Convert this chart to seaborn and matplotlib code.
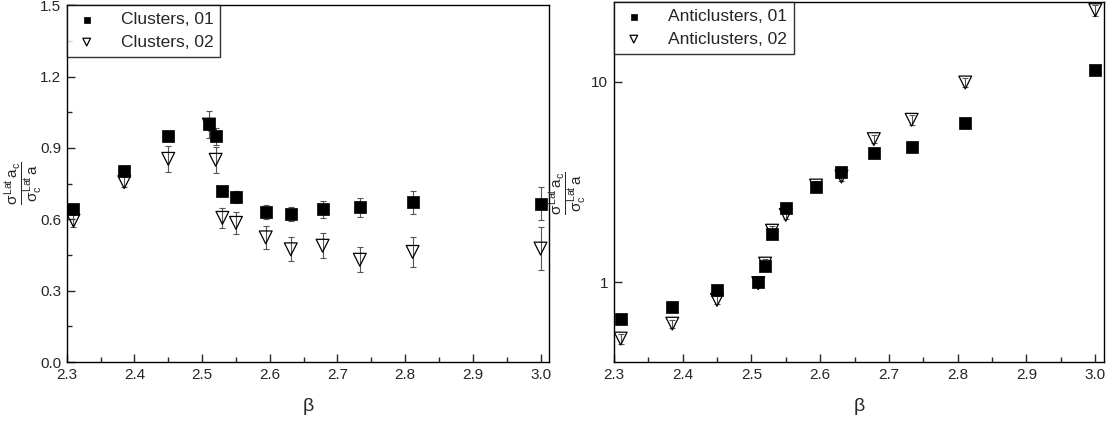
import numpy as np
import pandas as pd
import matplotlib
matplotlib.use('Agg')
import matplotlib.pyplot as plt
import matplotlib.ticker as mticker
import seaborn as sns

beta = [2.31, 2.385, 2.45, 2.51, 2.52, 2.53, 2.55, 2.594, 2.631, 2.678, 2.733, 2.811, 3.0]

clusters_01 = [0.645, 0.802, 0.952, 1.0, 0.949, 0.718, 0.694, 0.631, 0.621, 0.642, 0.650, 0.671, 0.665]
clusters_01_err = [0.02, 0.02, 0.02, 0.02, 0.035, 0.02, 0.025, 0.028, 0.03, 0.035, 0.04, 0.05, 0.07]
clusters_02 = [0.594, 0.756, 0.854, 0.998, 0.850, 0.606, 0.585, 0.524, 0.474, 0.489, 0.430, 0.463, 0.477]
clusters_02_err = [0.025, 0.02, 0.054, 0.057, 0.054, 0.043, 0.045, 0.048, 0.05, 0.053, 0.053, 0.062, 0.09]

anti_01 = [0.659, 0.756, 0.919, 1.0, 1.20, 1.74, 2.35, 2.98, 3.54, 4.41, 4.74, 6.27, 11.5]
anti_01_err = [0.02, 0.02, 0.03, 0.03, 0.04, 0.05, 0.06, 0.08, 0.1, 0.12, 0.13, 0.18, 0.35]
anti_02 = [0.524, 0.622, 0.817, 0.99, 1.24, 1.81, 2.17, 3.04, 3.37, 5.18, 6.47, 9.93, 22.8]
anti_02_err = [0.03, 0.03, 0.04, 0.04, 0.06, 0.09, 0.1, 0.15, 0.15, 0.25, 0.35, 0.55, 1.4]

sns.set_style('ticks')
plt.rcParams['font.family'] = ['Liberation Sans', 'DejaVu Sans']
plt.rcParams['mathtext.fontset'] = 'custom'
plt.rcParams['mathtext.rm'] = 'Liberation Sans'
plt.rcParams['mathtext.it'] = 'Liberation Sans'

ylab = r'$\dfrac{\sigma^{\mathrm{Lat}}\,\mathrm{a_c}}{\sigma_{\mathrm{c}}^{\mathrm{Lat}}\,\mathrm{a}}$'

fig = plt.figure(figsize=(11.12, 4.25), dpi=100)
ax1 = fig.add_axes([0.060, 0.148, 0.434, 0.840])
ax2 = fig.add_axes([0.552, 0.148, 0.441, 0.847])


def panel(ax, y1, e1, y2, e2, names):
    df = pd.DataFrame({'beta': beta, 'y1': y1, 'y2': y2})
    ax.errorbar(beta, y2, yerr=e2, fmt='none', ecolor='#555555', elinewidth=0.8, capsize=2.5, capthick=0.8, zorder=1)
    ax.errorbar(beta, y1, yerr=e1, fmt='none', ecolor='#555555', elinewidth=0.8, capsize=2.5, capthick=0.8, zorder=1)
    sns.scatterplot(data=df, x='beta', y='y1', ax=ax, marker='s', s=70, color='black', edgecolor='black',
                    linewidth=0.5, label=names[0], zorder=3)
    sns.scatterplot(data=df, x='beta', y='y2', ax=ax, marker='v', s=85, facecolor='none', edgecolor='black',
                    linewidth=0.9, label=names[1], zorder=4)
    ax.set_xlim(2.3, 3.013)
    ax.xaxis.set_major_locator(mticker.MultipleLocator(0.1))
    ax.xaxis.set_minor_locator(mticker.MultipleLocator(0.05))
    ax.xaxis.set_major_formatter(mticker.FormatStrFormatter('%.1f'))
    ax.tick_params(which='both', direction='in', top=False, right=False, labelsize=11, pad=4)
    ax.tick_params(which='major', length=6, width=1)
    ax.tick_params(which='minor', length=3.5, width=1)
    for sp in ax.spines.values():
        sp.set_visible(True)
        sp.set_color('black')
        sp.set_linewidth(1)
    ax.set_xlabel('β', fontsize=14, labelpad=12)
    ax.set_ylabel(ylab, fontsize=11)
    leg = ax.legend(loc='upper left', fontsize=12.5, frameon=True, fancybox=False, borderaxespad=0,
                    markerscale=0.6, handletextpad=1.2, borderpad=0.4, labelspacing=0.42, handlelength=1.5)
    leg.get_frame().set_edgecolor('black')
    leg.get_frame().set_linewidth(1)


panel(ax1, clusters_01, clusters_01_err, clusters_02, clusters_02_err, ['Clusters, 01', 'Clusters, 02'])
ax1.set_ylim(0, 1.5)
ax1.yaxis.set_major_locator(mticker.MultipleLocator(0.3))
ax1.yaxis.set_minor_locator(mticker.MultipleLocator(0.15))
ax1.yaxis.set_major_formatter(mticker.FormatStrFormatter('%.1f'))
ax1.yaxis.set_label_coords(-0.045, 0.5)

panel(ax2, anti_01, anti_01_err, anti_02, anti_02_err, ['Anticlusters, 01', 'Anticlusters, 02'])
ax2.set_yscale('log')
ax2.set_ylim(0.4, 25)
ax2.yaxis.set_major_locator(mticker.FixedLocator([1, 10]))
ax2.yaxis.set_minor_locator(mticker.NullLocator())
ax2.yaxis.set_major_formatter(mticker.FormatStrFormatter('%g'))
ax2.yaxis.set_label_coords(-0.05, 0.47)

fig.savefig('out.png', dpi=100)
